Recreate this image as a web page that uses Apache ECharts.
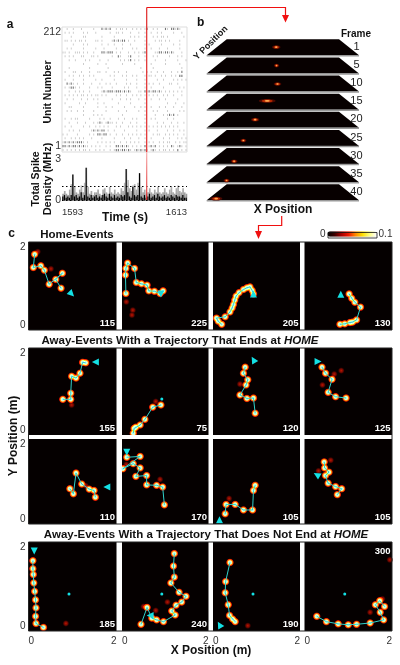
<!DOCTYPE html>
<html>
<head>
<meta charset="utf-8">
<script src="https://cdn.jsdelivr.net/npm/echarts@6/dist/echarts.min.js"></script>
<style>html,body{margin:0;background:#fff}#main{width:400px;height:665px}</style>
</head>
<body>
<div id="main"></div>
<script>
// panel a: raster read row by row, top row = unit 212. i = faint tick, # = dark tick
const rasterRows = [
  '..i..i...i.....i...#i#i#..i.ii.i..i.i.i.i#..i.i...#i.##i#i...',
  '.i.i.i....i.i...i......i..ii.i...i...i..i..i..i.i.....i...i..',
  '....i.....ii.......i.....i.......i.i.i..i...i.i.ii.i.......i.',
  '.ii.i.i.ii.i....ii.i....i#i#i##.i..i....i....i.ii.i.i....i...',
  '.....i....i.i......i..i..i...i...i......i.i.....i.....i..i...',
  '..i.i.....i.....i...i.....i..i....i.i...i..i...i...i.....i...',
  'ii.i..iii.i.i..i...##i###.i.i...i..i.i.i#....ii##i##i#i...i..',
  '.i.i.i...ii...ii.i......i..#i...i#...i..i...i.i.....i...i.i..',
  '...i..i....i.i....i...i.....i.i.i#.i.i..i....i....i.....i...i',
  '..........i......i...i.......i.....i.......i......i......i...',
  '...i.........i........i...............i.....i.............i..',
  '.i...ii..i...i...ii..i...i.i...i.......i.i.i..i..i...i..i.#..',
  '...i.i..i.i..i.i.......i.i...i.i..i.i...i.ii.i..i.i..i.i.##..',
  '.i...i....i.....i..i.....i.....i....i...i.....i..i....i.i.i.i',
  '..#i#i.i..i...i...i..i.i..i....i.i..i...i.i.i..i....ii..i....',
  '.i.i##i.i....i...i.i....i.....i.i...i...i..i.....i.......i.i.',
  '...i..i.i.i..i.....i#i###i###i#i#i...ii.#i#i##i#i.i.i.i.i.i..',
  '.i.i.i.i.ii.i.i.ii.i.i....i.i..i..i.i.i.i.i.i.i..i.i..i...i..',
  '..i..i...i..i..i.i......i...i..i.i...i..i..i...i..i.....i....',
  '.i......i..i.....i..i......i.....i......i..........i...i...i.',
  '...ii.....i......i...i..i.....i....i..i.i..i...i..i...i...i..',
  '..i.i..i..i....i.....i.....i...i.....i..i...i.i....i.....i.i.',
  '..........i....i.i.i.........i..........i....i...i.i#i#.i....',
  '.i..i.ii.....i....i.i..i...i..i...i.i...i..i.i.....i..i......',
  '...i...i...i...i.i#i.i#ii.i..i...i..i...i.....i..i...i..i..i.',
  '.i..i.....i..i..i.i.i.i...i.i...i.i.i.i.i.i.i.i.i.i.i.i.i....',
  '...i.i..i.....i#i#i##.i..i....i.....i...i.i...i....i..i..i.i.',
  'i.i....i.....i.i.##i##.i..i..i..i.i.i.i.i...i.ii..i.i.i.i..i.',
  '.i..i.i.i.i...i....i.....i....i..i...i..i..i.....i..i...i.i.i',
  'i#i#i#i###i.i....i.i.i.i.i..i..i.i.i.i..i.i.i..i.i.ii..i.i.ii',
  '##i#i##i#i#ii.i.i.i..i.i..##i#i#i.i.i.i.#.i#i#.i.i.i.#i.i#i.i',
  'i.i.i.i.i.ii.i..i.i.i..i.i##i##i#i.i#i#i#i.i#i.i.ii.i.i.#.i.i'
];
const rasterStart = 1593, rasterEnd = 1613;
const unitTicks = [1, 212];
const timeTicks = [1593, 1613];

const densityHalo = [
  .5,.7,.5,.4,.8,1.2,1.9,1.0,.6,.5,
  .8,1.1,.6,1.3,2.4,1.0,.5,.7,.4,.6,
  .6,.8,.5,.4,.8,.9,.6,.5,1.0,.6,
  .5,.8,.5,.6,.5,.9,.7,1.3,2.3,1.5,
  .9,.7,1.1,1.2,.8,1.3,2.0,1.0,.6,.8,
  .5,.6,.9,.6,.5,.8,.6,1.0,.6,.5,
  .6,.9,.6,.5,.8,1.0,.6,.5,.9,1.1,
  .7,.6,.9,.6,.5
];
const densityCore = [
  .3,.4,.2,.3,.2,.4,1.9,.3,.4,.2,
  .3,.6,.2,.4,2.4,.3,.2,.4,.2,.3,
  .4,.2,.3,.2,.4,.5,.3,.2,.5,.3,
  .2,.4,.2,.3,.2,.4,.3,.4,2.3,.6,
  .3,.2,1.0,.4,.3,.4,2.0,.3,.2,.4,
  .2,.3,.5,.2,.3,.4,.2,.5,.3,.2,
  .3,.4,.2,.3,.2,.4,.3,.2,.4,.3,
  .3,.2,.4,.2,.2
];
const densityLevels = [1.08, 0.05];
const densityTicks = [0, 3];

// panel b
const frames = [1, 5, 10, 15, 20, 25, 30, 35, 40];
const frameSpotX = [.90, .905, .92, .76, .58, .43, .33, .24, .10];
const frameSpotY = [1.02, .98, .94, 1.10, 1.02, .68, .34, .21, .21];
const frameSpotSpread = [.055, .035, .05, .11, .055, .04, .045, .04, .08];
const heatScale = ['#000000', '#3d0000', '#a80000', '#f01800', '#ff8a00', '#ffe000', '#ffff80', '#ffffff'];

// panel c: trajectories in metres
const panelSteps = [115, 225, 205, 130, 155, 75, 120, 125, 110, 170, 105, 105, 185, 240, 190, 300];
const path115 = [[.14,1.72],[.11,1.42],[.28,1.46],[.36,1.36],[.47,1.04],[.77,1.29],[.62,1.15],[.74,.95]];
const path225 = [[.09,.83],[.08,1.25],[.09,1.4],[.13,1.52],[.29,1.40],[.33,1.08],[.45,1.05],[.58,1.02],[.62,.89],[.75,.88],[.88,.83],[.95,.89]];
const path205 = [[.20,.13],[.12,.2],[.08,.27],[.28,.3],[.39,.41],[.44,.5],[.47,.58],[.5,.68],[.53,.77],[.6,.85],[.70,.92],[.78,.96],[.85,.98],[.9,.9],[.93,.82]];
const path130 = [[1.02,.82],[1.08,.72],[1.15,.63],[1.28,.52],[1.19,.23],[1.1,.18],[1.04,.17],[.92,.14],[.81,.13]];
const path155 = [[.78,.82],[.96,.82],[.96,.96],[.98,1.35],[1.08,1.31],[1.17,1.42],[1.23,1.67],[1.3,1.66]];
const path75 = [[.26,.04],[.28,.15],[.32,.18],[.42,.23],[.53,.36],[.71,.64],[.90,.69]];
const path120 = [[.97,.50],[.93,.85],[.78,.84],[.62,.92],[.76,1.15],[.80,1.27],[.70,1.42],[.74,1.56]];
const path125 = [[.40,1.56],[.48,1.42],[.63,1.28],[.54,.98],[.71,.88],[.95,.85]];
const path110 = [[1.52,.63],[1.49,.79],[1.38,.82],[1.21,.94],[1.08,1.20],[1.02,.71],[.94,.83]];
const path170 = [[.11,1.57],[.42,1.59],[.02,1.30],[.26,1.42],[.42,1.32],[.32,1.12],[.57,1.14],[.57,.92],[.8,.91],[.94,.87],[.98,.45]];
const path105a = [[.28,.24],[.30,.46],[.51,.46],[.70,.33],[.91,.33],[.93,.79],[.97,.91]];
const path105b = [[.45,1.46],[.46,1.32],[.56,1.22],[.48,1.14],[.54,.96],[.71,.88],[.85,.83],[.75,.69]];
const path185 = [[.10,1.58],[.1,1.4],[.11,1.27],[.12,1.08],[.14,.89],[.16,.7],[.17,.52],[.16,.33],[.17,.17],[.34,.08]];
const path240 = [[1.21,1.74],[1.19,1.46],[1.21,1.21],[1.13,1.08],[1.32,.87],[1.48,.78],[1.38,.65],[1.25,.58],[1.15,.45],[1.23,.36],[.96,.21],[.8,.25],[.69,.29],[.58,.53],[.44,.15]];
const path190 = [[.39,1.54],[.29,1.11],[.28,.86],[.35,.59],[.38,.35],[.45,.27],[.51,.21]];
const path300 = [[.28,.33],[.50,.21],[.77,.16],[1.0,.14],[1.19,.15],[1.5,.18],[1.81,.25],[1.73,.42],[1.62,.59],[1.72,.68],[1.83,.55]];

const stray115 = [[.21,1.78],[.51,1.39]];
const stray225 = [[.10,.64],[.25,.45],[.23,.34]];
const stray205 = [];
const stray130 = [];
const stray155 = [[.98,.69]];
const stray75 = [[.78,.77]];
const stray120 = [[.62,1.17]];
const stray125 = [[.68,1.40],[.41,1.15],[.84,1.48]];
const stray110 = [[1.3,.9]];
const stray170 = [[.1,1.4],[.88,1.05]];
const stray105a = [[.37,.6]];
const stray105b = [[.32,1.25],[.6,1.5]];
const stray185 = [[.85,.17]];
const stray240 = [[.78,.46],[1.05,.65],[.5,.55]];
const stray190 = [[.8,.12]];
const stray300 = [[1.78,.72],[1.5,.42],[1.95,1.6]];

const arrow115 = [.98,.82], arrow225 = [.90,.82], arrow205 = [.93,.82], arrow130 = [.83,.81];
const arrow155 = [1.52,1.68], arrow120 = [.93,1.73], arrow125 = [.31,1.69], arrow110 = [1.78,.87];
const arrow170 = [.11,1.69], arrow105a = [.15,.10], arrow105b = [.28,1.16], arrow185 = [.13,1.80];
const arrow240 = [.65,.35], arrow190 = [.15,.14];
const home = [.92,.83];

const panelData = [
  [path115, stray115, arrow115, -135, false], [path225, stray225, arrow225, 180, false],
  [path205, stray205, arrow205, 0, false], [path130, stray130, arrow130, 0, false],
  [path155, stray155, arrow155, 90, false], [path75, stray75, null, 0, true],
  [path120, stray120, arrow120, 30, false], [path125, stray125, arrow125, -90, false],
  [path110, stray110, arrow110, 90, false], [path170, stray170, arrow170, 180, false],
  [path105a, stray105a, arrow105a, 0, false], [path105b, stray105b, arrow105b, 60, false],
  [path185, stray185, arrow185, 180, true], [path240, stray240, arrow240, 90, true],
  [path190, stray190, arrow190, 30, true], [path300, stray300, null, 0, true]
];

const colSpans = [[28.5, 116.5], [122, 208.5], [213, 300], [304.5, 392]];
const rowSpans = [[242, 330], [348, 435], [439, 524], [542, 631]];

const RG = echarts.graphic.RadialGradient;
const LG = echarts.graphic.LinearGradient;
const hotBlob = new RG(.5, .5, .5, [
  { offset: 0, color: '#ffffff' }, { offset: .42, color: '#fff0a0' }, { offset: .6, color: '#ff9000' },
  { offset: .78, color: '#d81800' }, { offset: 1, color: 'rgba(60,0,0,0)' }
]);
const dimBlob = new RG(.5, .5, .5, [
  { offset: 0, color: '#c01400' }, { offset: .6, color: '#600600' }, { offset: 1, color: 'rgba(40,0,0,0)' }
]);

let grids = [], xAxes = [], yAxes = [], series = [], graphics = [];
const hidden = { show: false };

function rasterPoints(mark) {
  let pts = [];
  rasterRows.forEach((row, r) => {
    const unit = 212 - (r + .5) * 211 / rasterRows.length;
    row.split('').forEach((c, k) => {
      if (c === mark) pts.push([rasterStart + (k + .5) * (rasterEnd - rasterStart) / row.length, unit]);
    });
  });
  return pts;
}

// a: raster
grids.push({ left: 62, top: 27, width: 125, height: 125, show: true, borderColor: '#ddd', borderWidth: 1 });
xAxes.push({ type: 'value', gridIndex: 0, min: rasterStart, max: rasterEnd, show: false });
yAxes.push({
  type: 'value', gridIndex: 0, min: 1, max: 212,
  axisLine: hidden, axisTick: hidden, splitLine: hidden,
  axisLabel: { customValues: unitTicks, margin: 1, fontFamily: 'Liberation Sans', fontSize: 10.5, color: '#333', verticalAlignMaxLabel: 'top', verticalAlignMinLabel: 'bottom' }
});
series.push({ type: 'scatter', xAxisIndex: 0, yAxisIndex: 0, silent: true, symbol: 'rect', symbolSize: [.8, 2], itemStyle: { color: '#c0c0c0', opacity: 1 }, data: rasterPoints('i') });
series.push({ type: 'scatter', xAxisIndex: 0, yAxisIndex: 0, silent: true, symbol: 'rect', symbolSize: [1.1, 2.2], itemStyle: { color: '#777', opacity: 1 }, data: rasterPoints('#') });

// a: spike density
grids.push({ left: 62, top: 153, width: 125, height: 51 });
xAxes.push({
  type: 'value', gridIndex: 1, min: rasterStart, max: rasterEnd,
  axisLine: hidden, axisTick: hidden, splitLine: hidden,
  axisLabel: { customValues: timeTicks, formatter: v => String(v), margin: 3, fontFamily: 'Liberation Sans', fontSize: 9.5, color: '#333', alignMinLabel: 'left', alignMaxLabel: 'right' }
});
yAxes.push({
  type: 'value', gridIndex: 1, min: -.25, max: 3.47,
  axisLine: hidden, axisTick: hidden, splitLine: hidden,
  axisLabel: { customValues: densityTicks, margin: 1, fontFamily: 'Liberation Sans', fontSize: 10.5, color: '#333' }
});
const densityTime = i => rasterStart + (i + .5) * (rasterEnd - rasterStart) / densityHalo.length;
series.push({
  type: 'bar', xAxisIndex: 1, yAxisIndex: 1, silent: true, startValue: -.25, barWidth: 1.7, barGap: '-100%',
  itemStyle: { color: new LG(0, 204, 0, 165, [{ offset: 0, color: '#777' }, { offset: .3, color: '#aaa' }, { offset: 1, color: '#ddd' }], true) },
  data: densityHalo.map((v, i) => [densityTime(i), v]),
  markLine: {
    silent: true, symbol: 'none', label: hidden, animation: false,
    lineStyle: { color: '#000', type: [1.5, 2.5], width: 1 },
    data: densityLevels.map(v => ({ yAxis: v }))
  }
});
series.push({
  type: 'bar', xAxisIndex: 1, yAxisIndex: 1, silent: true, startValue: -.25, barWidth: 1.2, barGap: '-100%',
  itemStyle: { color: '#000' },
  data: densityCore.map((v, i) => [densityTime(i), v])
});

// b: stacked frames
const planeGap = 18.13, planeTall = 16, planeInset = .263;
grids.push({ left: 206.7, top: 39.3, width: 152.3, height: 8 * planeGap + planeTall });
xAxes.push({ type: 'value', gridIndex: 2, min: 0, max: 2, show: false });
yAxes.push({ type: 'value', gridIndex: 2, min: 0, max: 8 + planeTall / planeGap, inverse: true, show: false });
series.push({
  type: 'custom', xAxisIndex: 2, yAxisIndex: 2, silent: true, clip: false,
  data: frames.map((f, i) => [i, f, frameSpotX[i], frameSpotY[i], frameSpotSpread[i]]),
  encode: { x: 2, y: 0 },
  renderItem(params, api) {
    const i = api.value(0), deep = planeTall / planeGap;
    const corners = [[planeInset, i], [2 - planeInset, i], [2, i + deep], [0, i + deep]].map(p => api.coord(p));
    const f = api.value(3) / 2;
    const sx = planeInset * f + (api.value(2) / 2) * (2 - 2 * planeInset * f);
    const spot = api.coord([sx, i + deep * (1 - f)]);
    const rx = api.coord([api.value(4), 0])[0] - api.coord([0, 0])[0];
    const lab = api.coord([1.967, i + .42]);
    const ellipse = (a, b, fill) => ({ type: 'ellipse', shape: { cx: spot[0], cy: spot[1], rx: a, ry: b }, style: { fill: fill } });
    return {
      type: 'group',
      children: [
        { type: 'polygon', shape: { points: corners }, style: { fill: '#070000' } },
        { type: 'line', shape: { x1: corners[3][0], y1: corners[3][1] + .5, x2: corners[2][0], y2: corners[2][1] + .5 }, style: { stroke: '#999', lineWidth: 1.5 } },
        ellipse(rx, 1.8, '#4a0800'),
        ellipse(rx * .65, 1.3, '#b82800'),
        ellipse(rx * .3, .8, '#ffa850'),
        { type: 'text', style: { text: String(api.value(1)), x: lab[0], y: lab[1], align: 'center', verticalAlign: 'middle', fontFamily: 'Liberation Sans', fontSize: 11, fill: '#222' } }
      ]
    };
  }
});

// c: event panels
panelData.forEach((p, n) => {
  const col = colSpans[n % 4], row = rowSpans[Math.floor(n / 4)];
  const g = grids.length, lastRow = n >= 12, firstCol = n % 4 === 0;
  grids.push({ left: col[0], top: row[0], width: col[1] - col[0], height: row[1] - row[0], show: true, backgroundColor: '#050000', borderWidth: 0 });
  xAxes.push({
    type: 'value', gridIndex: g, min: 0, max: 2, axisLine: hidden, axisTick: hidden, splitLine: hidden,
    axisLabel: lastRow ? { customValues: [0, 2], margin: 5, fontFamily: 'Liberation Sans', fontSize: 10, color: '#333', alignMinLabel: 'left', alignMaxLabel: 'right' } : hidden
  });
  yAxes.push({
    type: 'value', gridIndex: g, min: 0, max: 2, axisLine: hidden, axisTick: hidden, splitLine: hidden,
    axisLabel: firstCol ? { customValues: [0, 2], margin: 3, fontFamily: 'Liberation Sans', fontSize: 10, color: '#333', verticalAlignMaxLabel: 'top', verticalAlignMinLabel: 'bottom' } : hidden
  });
  const on = { xAxisIndex: g, yAxisIndex: g, silent: true };
  series.push({ type: 'scatter', ...on, symbolSize: 7, itemStyle: { color: dimBlob, opacity: 1 }, data: p[1] });
  series.push({ type: 'scatter', ...on, blendMode: 'lighter', symbolSize: 8.5, itemStyle: { color: hotBlob, opacity: 1 }, data: p[0] });
  series.push({ type: 'line', ...on, symbol: 'none', lineStyle: { color: '#2fd2cc', width: 1 }, data: p[0] });
  series.push({ type: 'scatter', ...on, symbolSize: 3, itemStyle: { color: '#b8fff2', opacity: 1 }, data: p[0] });
  if (p[2]) series.push({ type: 'scatter', ...on, symbol: 'triangle', symbolSize: 7, symbolRotate: p[3], itemStyle: { color: '#14e0e4', opacity: 1 }, data: [p[2]] });
  if (p[4]) series.push({ type: 'scatter', ...on, symbolSize: 3, itemStyle: { color: '#14e0e4', opacity: 1 }, data: [home] });
  const topLabel = n === 15;
  graphics.push({
    type: 'text', silent: true, z: 50, x: col[1] - 1.5, y: topLabel ? row[0] + 9 : row[1] - 7,
    style: { text: String(panelSteps[n]), align: 'right', verticalAlign: 'middle', fontFamily: 'Liberation Sans', fontWeight: 'bold', fontSize: 9.5, fill: '#fff' }
  });
});

// empty series only so the colour bar has something to bind to
const heatIndex = series.length;
grids.push({ left: 328, top: 232.5, width: 49, height: 5.5 });
xAxes.push({ type: 'value', gridIndex: grids.length - 1, show: false });
yAxes.push({ type: 'value', gridIndex: grids.length - 1, show: false });
series.push({ type: 'scatter', xAxisIndex: grids.length - 1, yAxisIndex: grids.length - 1, data: [] });

function label(text, x, y, size, opts) {
  graphics.push(Object.assign({
    type: 'text', silent: true, z: 50, x: x, y: y,
    style: { text: text, align: 'center', verticalAlign: 'middle', fontFamily: 'Liberation Sans', fontWeight: 'bold', fontSize: size, fill: '#111' }
  }, opts || {}));
}
label('a', 10, 25, 12);
label('b', 200.7, 23, 12);
label('c', 11.7, 234, 12);
label('Unit Number', 48, 92, 10.5, { rotation: Math.PI / 2 });
label('Total Spike', 36, 179, 10.5, { rotation: Math.PI / 2 });
label('Density (MHz)', 48, 179, 11, { rotation: Math.PI / 2 });
label('Time (s)', 125, 218, 12);
label('Y Position', 210.7, 43, 9, { rotation: Math.PI / 4 });
label('Frame', 356, 34, 10);
label('X Position', 283, 209.5, 12);
label('Home-Events', 77, 234.5, 11.5);
label('X Position (m)', 211, 651, 12);
label('Y Position (m)', 14, 436, 12, { rotation: Math.PI / 2 });
const richBold = { fontFamily: 'Liberation Sans', fontWeight: 'bold', fontSize: 11.5, fill: '#111' };
graphics.push({
  type: 'text', silent: true, z: 50, x: 180, y: 341,
  style: { text: '{b|Away-Events With a Trajectory That Ends at }{i|HOME}', align: 'center', verticalAlign: 'middle', rich: { b: richBold, i: { ...richBold, fontStyle: 'italic' } } }
});
graphics.push({
  type: 'text', silent: true, z: 50, x: 206, y: 535,
  style: { text: '{b|Away-Events With a Trajectory That Does Not End at }{i|HOME}', align: 'center', verticalAlign: 'middle', rich: { b: richBold, i: { ...richBold, fontStyle: 'italic' } } }
});

// red connectors and block outlines
const red = { stroke: '#f01010', lineWidth: 1.2, fill: null };
graphics.push({ type: 'polyline', silent: true, z: 40, shape: { points: [[146.7, 7.5], [285.5, 7.5], [285.5, 16]] }, style: red });
graphics.push({ type: 'polyline', silent: true, z: 40, shape: { points: [[146.7, 7.5], [146.7, 152]] }, style: { stroke: '#e02828', lineWidth: 1.2 } });
graphics.push({ type: 'polyline', silent: true, z: 40, shape: { points: [[146.7, 152], [146.7, 200]] }, style: { stroke: new LG(0, 152, 0, 200, [{ offset: 0, color: '#f8b0b0' }, { offset: 1, color: '#e02828' }], true), lineWidth: 1.2 } });
graphics.push({ type: 'polygon', silent: true, z: 40, shape: { points: [[282, 15], [289, 15], [285.5, 22.5]] }, style: { fill: '#f01010' } });
graphics.push({ type: 'polyline', silent: true, z: 40, shape: { points: [[281.7, 216], [281.7, 225.5], [258.5, 225.5], [258.5, 232]] }, style: red });
graphics.push({ type: 'polygon', silent: true, z: 40, shape: { points: [[255, 231], [262, 231], [258.5, 239]] }, style: { fill: '#f01010' } });
graphics.push({ type: 'rect', silent: true, z: 40, shape: { x: 328, y: 232.5, width: 49, height: 5.5 }, style: { fill: null, stroke: '#111', lineWidth: .8 } });
[[28.5, 242, 363.5, 88], [28.5, 348, 363.5, 176], [28.5, 542, 363.5, 89]].forEach(r => {
  graphics.push({ type: 'rect', silent: true, z: 30, shape: { x: r[0], y: r[1], width: r[2], height: r[3] }, style: { fill: null, stroke: '#222', lineWidth: 1 } });
});

const chart = echarts.init(document.getElementById('main'));
chart.setOption({
  animation: false,
  backgroundColor: '#fff',
  grid: grids, xAxis: xAxes, yAxis: yAxes, series: series, graphic: graphics,
  visualMap: {
    type: 'continuous', seriesIndex: heatIndex, min: 0, max: .1, orient: 'horizontal',
    left: 320, top: 229, itemWidth: 5.5, itemHeight: 49, text: ['0.1', '0'], textGap: 2, padding: 0,
    calculable: false, hoverLink: false, inRange: { color: heatScale },
    textStyle: { fontFamily: 'Liberation Sans', fontSize: 10, color: '#333' }
  }
});
</script>
</body>
</html>
